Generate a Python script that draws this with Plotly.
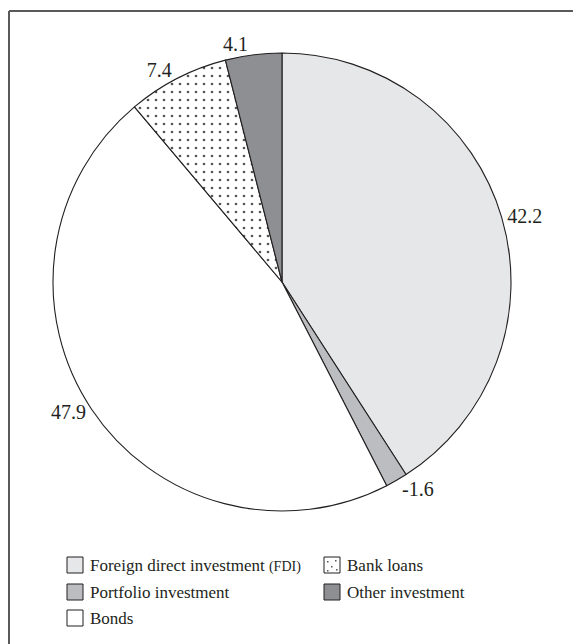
import plotly.graph_objects as go

# ---- data ----
categories = ["Foreign direct investment (FDI)", "Portfolio investment", "Bonds",
              "Bank loans", "Other investment"]
shares = [42.2, -1.6, 47.9, 7.4, 4.1]
colors = ["#e6e7e8", "#bcbdc0", "#ffffff", "#ffffff", "#8e8f92"]
patterns = ["", "", "", ".", ""]
legend_order = ["Foreign direct investment (FDI)", "Bank loans",
                "Portfolio investment", "Other investment", "Bonds"]

W, H = 581, 644
OFF = 8  # page body margin offset
LINE = "#231f20"
FONT = "Liberation Serif"


def px(x):
    return (x - OFF) / W


def py(y):
    return 1 - (y - OFF) / H


fig = go.Figure()
fig.add_trace(go.Pie(
    labels=categories,
    values=[abs(v) for v in shares],
    text=[f"{v:.1f}" for v in shares],
    texttemplate="%{text}",
    textposition="outside",
    textfont=dict(family=FONT, size=20, color=LINE),
    sort=False,
    direction="clockwise",
    rotation=0,
    marker=dict(colors=colors,
                line=dict(color=LINE, width=1.1),
                pattern=dict(shape=patterns, fgcolor="#555555", bgcolor="#ffffff",
                             size=8, solidity=0.09)),
    domain=dict(x=[px(53), px(511)], y=[py(511), py(53)]),
    showlegend=False,
    hoverinfo="label+text",
))

shapes = []
annotations = []
# frame
shapes.append(dict(type="line", xref="paper", yref="paper", x0=px(9), x1=1.01,
                   y0=py(11), y1=py(11), line=dict(color="#5a5a5a", width=2)))
shapes.append(dict(type="line", xref="paper", yref="paper", x0=px(9), x1=px(9),
                   y0=py(11), y1=-0.01, line=dict(color="#5a5a5a", width=2)))

# legend (manual, two columns)
col_x = [67, 324]
row_y = [565, 592, 618]
for i, name in enumerate(legend_order):
    r, c = divmod(i, 2)
    x0 = col_x[c]
    yc = row_y[r]
    idx = categories.index(name)
    shapes.append(dict(type="rect", xref="paper", yref="paper",
                       x0=px(x0), x1=px(x0 + 16), y0=py(yc - 8), y1=py(yc + 8),
                       fillcolor=colors[idx], line=dict(color=LINE, width=1)))
    if patterns[idx] == ".":
        for dx, dy in [(3, 4), (11, 3), (7, 9), (3, 13), (12, 12)]:
            shapes.append(dict(type="rect", xref="paper", yref="paper",
                               x0=px(x0 + dx), x1=px(x0 + dx + 1.5),
                               y0=py(yc - 8 + dy), y1=py(yc - 8 + dy + 1.5),
                               fillcolor="#555555", line=dict(width=0)))
    label = name.replace("(FDI)", "<span style='font-size:14px'>(FDI)</span>")
    annotations.append(dict(xref="paper", yref="paper", x=px(x0 + 21), y=py(yc),
                            xanchor="left", yanchor="middle", showarrow=False,
                            text=label,
                            font=dict(family=FONT, size=17, color=LINE)))

fig.update_layout(
    width=W, height=H,
    margin=dict(l=0, r=0, t=0, b=0),
    paper_bgcolor="white",
    plot_bgcolor="white",
    font=dict(family=FONT),
    shapes=shapes,
    annotations=annotations,
    showlegend=False,
)

fig.write_html("out.html")
